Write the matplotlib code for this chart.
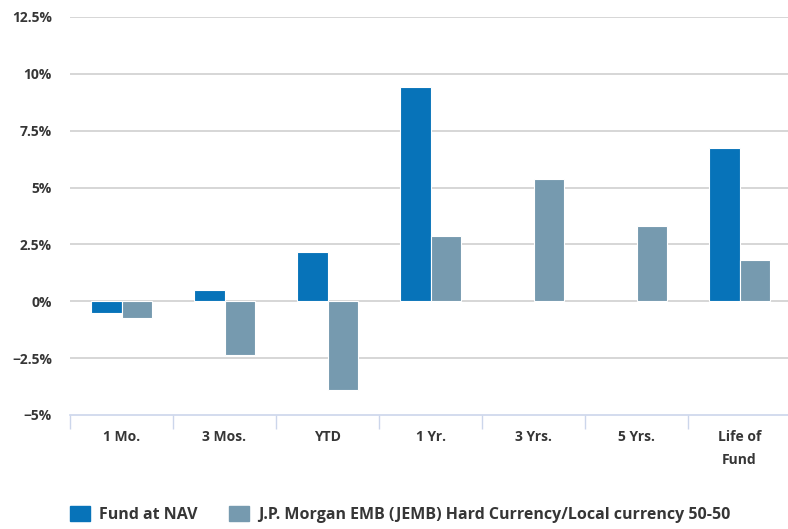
import numpy as np
import matplotlib
matplotlib.use("Agg")
from matplotlib import pyplot as plt
from matplotlib.patches import Patch

categories = ["1 Mo.", "3 Mos.", "YTD", "1 Yr.", "3 Yrs.", "5 Yrs.", "Life of\nFund"]
fund_nav = [-0.52, 0.50, 2.17, 9.43, np.nan, np.nan, 6.74]
benchmark = [-0.75, -2.36, -3.90, 2.85, 5.36, 3.33, 1.83]
series_names = ["Fund at NAV", "J.P. Morgan EMB (JEMB) Hard Currency/Local currency 50-50"]
y_ticks = [-5, -2.5, 0, 2.5, 5, 7.5, 10, 12.5]
y_labels = ["\u22125%", "\u22122.5%", "0%", "2.5%", "5%", "7.5%", "10%", "12.5%"]

fund_color = "#0773b9"
bench_color = "#769aaf"
text_color = "#363636"

plt.rcParams['font.family'] = ['Open Sans', 'DejaVu Sans']

fig = plt.figure(figsize=(7.88, 5.29), dpi=100)
ax = fig.add_axes([70/788, (529-415)/529, 721/788, 398/529])

x = np.arange(len(categories))
w = 0.3
ax.bar(x - w/2, fund_nav, w, color=fund_color, edgecolor="white", linewidth=0.8, zorder=3)
ax.bar(x + w/2, benchmark, w, color=bench_color, edgecolor="white", linewidth=0.8, zorder=3)

ax.set_xlim(-0.5, len(categories) - 0.5)
ax.set_ylim(-5, 12.5)
ax.set_yticks(y_ticks)
ax.set_yticklabels(y_labels)
for v in y_ticks[1:]:
    ax.axhline(v, color="#cfcfcf", linewidth=1.2, zorder=1)

# category boundaries as ticks, labels in the middle
ax.set_xticks(np.arange(-0.5, len(categories)), minor=False)
ax.set_xticklabels([])
ax.set_xticks(x, minor=True)
ax.set_xticklabels(categories, minor=True)
ax.tick_params(axis="x", which="major", length=10, color="#ccd6eb", width=1)
ax.tick_params(axis="x", which="minor", length=0, pad=11, labelsize=10, labelcolor=text_color)
ax.tick_params(axis="y", length=0, pad=13, labelsize=10, labelcolor=text_color)
for lab in ax.get_xticklabels(minor=True) + ax.get_yticklabels():
    lab.set_fontweight("bold")
    lab.set_linespacing(1.75)

for s in ["top", "right", "left"]:
    ax.spines[s].set_visible(False)
ax.spines["bottom"].set_color("#ccd6eb")
ax.spines["bottom"].set_linewidth(1.2)

handles = [Patch(color=fund_color), Patch(color=bench_color)]
leg = fig.legend(handles, series_names, loc="lower left", bbox_to_anchor=(70/788, 6/529),
                 ncol=2, frameon=False, handlelength=1.25, handleheight=1.05,
                 handletextpad=0.55, columnspacing=2.0, borderpad=0, borderaxespad=0,
                 prop={"size": 11.5, "weight": "bold"})
for t in leg.get_texts():
    t.set_color(text_color)

fig.savefig("out.png", dpi=100)
